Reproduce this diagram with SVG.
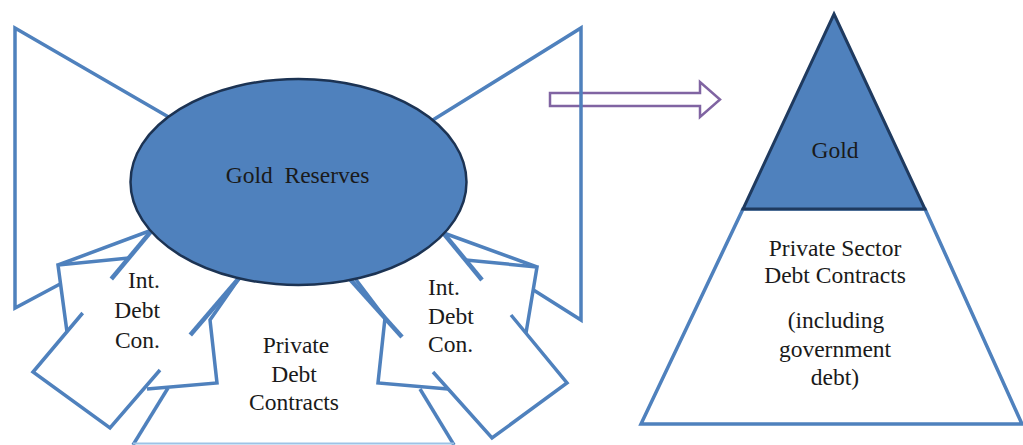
<svg xmlns="http://www.w3.org/2000/svg" width="1023" height="445" viewBox="0 0 1023 445">
<style>
.ln{fill:none;stroke:#4f81bd;stroke-width:3.5;stroke-linejoin:miter}
.stub{fill:none;stroke:#4f81bd;stroke-width:4.5}
.edge{fill:none;stroke:#9dc3e6;stroke-width:2}
.gold{fill:#4f81bd;stroke:#1f3a5f;stroke-width:3}
.base{fill:#fff;stroke:#4f81bd;stroke-width:3.5}
.tr{fill:#fff;stroke:#8064a2;stroke-width:2.5}
.t{font-family:"Liberation Serif","Times New Roman",serif;font-size:23.5px;fill:#1a1a1a}
.c{text-anchor:middle}
</style>
<rect width="1023" height="445" fill="#fff"/>
<g id="transform-arrow">
<polygon class="tr" points="550,93 700,93 700,82 720,99.5 700,117 700,106 550,106"/>
</g>
<g id="left-wing">
<path class="ln" d="M172,119 L15,28 L15,308 L61,283.5"/>
</g>
<g id="right-wing">
<path class="ln" d="M428,123 L581,28 L581,320 L533.5,290"/>
</g>
<g id="connectors">
<g id="int-debt-left">
<path class="ln" d="M67,332 L58,265 L129,258"/>
<path class="ln" d="M58,265 L152,230"/>
<path class="ln" d="M82.7,313 L33,372 L110,428 L160,370"/>
<path class="stub" d="M111.3,279 L153,229"/>
<path class="stub" d="M190.3,335 L240,277"/>
</g>
<g id="private-debt">
<path class="ln" d="M240,277 L210,320 L217,383 L147,389"/>
<path class="ln" d="M168,388 L133,445"/>
<path class="ln" d="M354,277 L385,318 L378,383 L448,389"/>
<path class="ln" d="M420,389 L454,445"/>
<path class="edge" d="M133,443.5 H454"/>
</g>
<g id="int-debt-right">
<path class="ln" d="M526,333 L537,267 L465.6,260"/>
<path class="ln" d="M537,267 L441,232"/>
<path class="ln" d="M511,315 L567,383 L492,438 L433,372"/>
<path class="stub" d="M482,280 L440,229"/>
<path class="stub" d="M402,337 L349,278"/>
</g>
</g>
<g id="gold-reserves">
<ellipse cx="298.5" cy="182" rx="168" ry="103" fill="#4f81bd" stroke="#1c3353" stroke-width="2.5"/>
<text class="t c" x="297.5" y="183" xml:space="preserve">Gold  Reserves</text>
</g>
<g id="int-debt-left-label">
<text class="t" text-anchor="end" x="160" y="288">Int.</text>
<text class="t" text-anchor="end" x="160" y="318">Debt</text>
<text class="t" text-anchor="end" x="160" y="348">Con.</text>
</g>
<g id="int-debt-right-label">
<text class="t" x="428" y="295">Int.</text>
<text class="t" x="428" y="324">Debt</text>
<text class="t" x="428" y="352">Con.</text>
</g>
<g id="private-debt-label">
<text class="t c" x="296" y="353">Private</text>
<text class="t c" x="294" y="382">Debt</text>
<text class="t c" x="294" y="410">Contracts</text>
</g>
<g id="pyramid">
<polygon class="base" points="743,209 925,209 1022,424 641,424"/>
<polygon class="gold" points="834,14 925,209 743,209"/>
<text class="t c" x="835" y="158">Gold</text>
<text class="t c" x="835" y="256">Private Sector</text>
<text class="t c" x="835" y="283">Debt Contracts</text>
<text class="t c" x="836" y="328">(including</text>
<text class="t c" x="835" y="357">government</text>
<text class="t c" x="835" y="385">debt)</text>
</g>
</svg>
